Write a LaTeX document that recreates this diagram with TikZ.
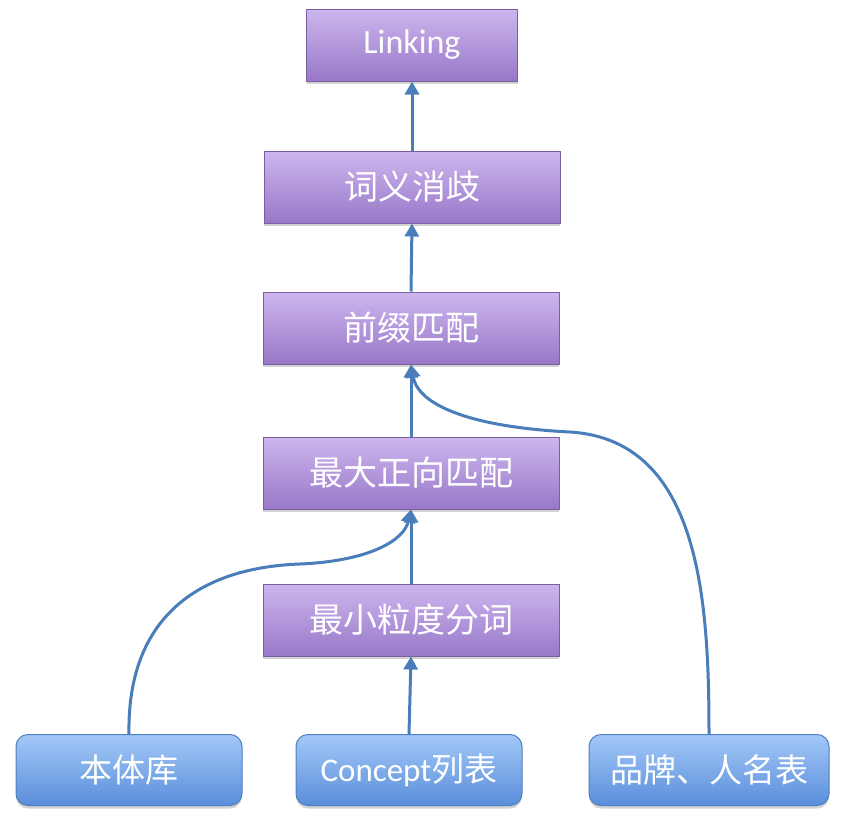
\documentclass[tikz,border=0pt]{standalone}
\usepackage{fontspec}
\setmainfont{Carlito}
\newfontfamily\cjk{Noto Sans CJK SC}
\usetikzlibrary{shadows,arrows.meta}
\definecolor{ptop}{HTML}{CDB6EE}
\definecolor{pbot}{HTML}{9878C8}
\definecolor{pdraw}{HTML}{7A609E}
\definecolor{btop}{HTML}{A3C8F7}
\definecolor{bbot}{HTML}{5A8EDB}
\definecolor{bdraw}{HTML}{4E7FC2}
\definecolor{arrc}{HTML}{4A7EBB}
\begin{document}
\begin{tikzpicture}[x=1pt,y=-1pt,
  pbox/.style={draw=pdraw, line width=1pt, top color=ptop, bottom color=pbot,
    minimum width=296pt, minimum height=72pt, inner sep=0pt, text=white,
    font=\fontsize{34}{38}\selectfont,
    drop shadow={opacity=0.35, shadow xshift=0pt, shadow yshift=-3pt}},
  bbox/.style={draw=bdraw, line width=1pt, top color=btop, bottom color=bbot,
    rounded corners=12pt, minimum width=226pt, minimum height=71pt, inner sep=0pt,
    text=white, font=\fontsize{33}{37}\selectfont,
    drop shadow={opacity=0.35, shadow xshift=0pt, shadow yshift=-3pt}},
  arr/.style={draw=arrc, line width=3pt, -{Triangle[length=13pt,width=14pt]}}
]
\useasboundingbox[fill=white] (0,0) rectangle (849,822);
\node[pbox, minimum width=211pt] (lk) at (412,45) {Linking};
\node[pbox] (cy) at (412,187) {\cjk 词义消歧};
\node[pbox] (qz) at (411,328) {\cjk 前缀匹配};
\node[pbox] (zd) at (411,473) {\cjk 最大正向匹配};
\node[pbox] (zx) at (411,620) {\cjk 最小粒度分词};
\node[bbox] (bt) at (129,770) {\cjk 本体库};
\node[bbox] (cp) at (409,770) {Concept{\cjk 列表}};
\node[bbox, minimum width=240pt] (pp) at (709,770) {\cjk 品牌、人名表};
\draw[arr] (cy.north) -- (lk.south);
\draw[arr] (qz.north) -- (cy.south);
\draw[arr] (zd.north) -- (qz.south);
\draw[arr] (zx.north) -- (zd.south);
\draw[arr] (cp.north) -- (zx.south);
\draw[arr] (bt.north) .. controls (127,625) and (190,568) .. (300,564)
  .. controls (370,561) and (404,540) .. (zd.south);
\draw[arr] (pp.north) .. controls (709,600) and (700,440) .. (570,432)
  .. controls (470,427) and (418,405) .. (qz.south);
\end{tikzpicture}
\end{document}
